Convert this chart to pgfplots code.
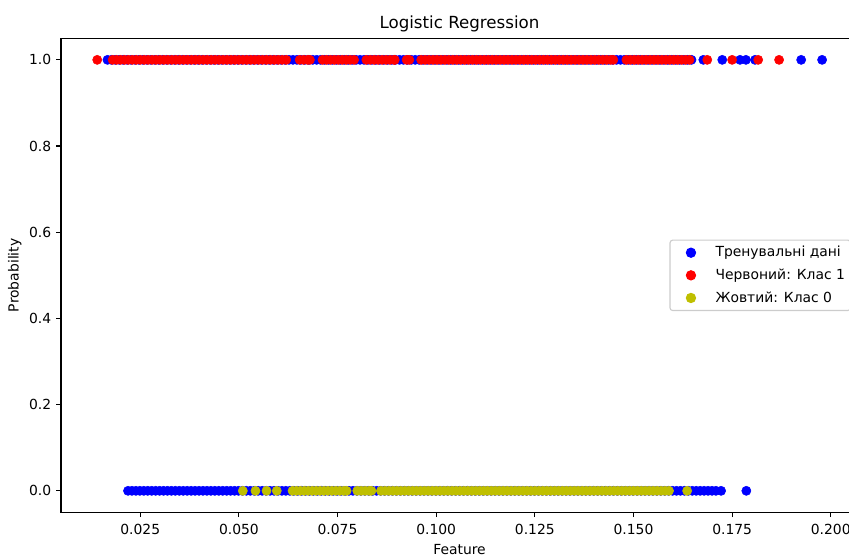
\documentclass[border=0pt]{standalone}
\usepackage{fontspec}
\setmainfont{DejaVu Sans}
\usepackage{pgfplots}
\pgfplotsset{compat=1.18}
\definecolor{mplyellow}{rgb}{0.75,0.75,0}
\begin{document}
\begin{tikzpicture}
\begin{axis}[
  name=ax,
  scale only axis,
  width=573.8pt, height=341.3pt,
  xmin=0.00492, xmax=0.2069,
  ymin=-0.05, ymax=1.05,
  /pgf/number format/assume math mode=true,
  xtick={0.025,0.050,0.075,0.100,0.125,0.150,0.175,0.200},
  xticklabels={0.025,0.050,0.075,0.100,0.125,0.150,0.175,0.200},
  ytick={0,0.2,0.4,0.6,0.8,1.0},
  yticklabels={0.0,0.2,0.4,0.6,0.8,1.0},
  tick align=outside,
  xtick pos=bottom, ytick pos=left,
  major tick length=3.5pt,
  tick style={black, line width=0.8pt},
  axis line style={black, line width=0.8pt},
  tick label style={font=\fontsize{10}{12}\selectfont},
  xticklabel style={yshift=-1.5pt},
  title={Logistic Regression},
  title style={font=\fontsize{12}{14}\selectfont, at={(axis description cs:0.5,1.0039)}, anchor=base},
  xlabel={Feature},
  xlabel style={font=\fontsize{10}{12}\selectfont, at={(axis description cs:0.5,-0.088)}, anchor=base},
  ylabel={Probability},
  ylabel style={font=\fontsize{10}{12}\selectfont, at={(axis description cs:-0.0533,0.5)}, anchor=base, rotate=0},
  legend style={at={(axis description cs:1,0.5)}, anchor=east, xshift=-5pt,
    draw=black!20, line width=0.8pt, rounded corners=2pt, fill=white,
    font=\fontsize{10}{12}\selectfont, row sep=3.2pt, inner xsep=2pt, inner ysep=2.5pt},
  legend cell align=left,
  legend image code/.code={\path (0pt,0pt) (28pt,0pt); \draw[#1] plot coordinates {(12.7pt,0pt)};},
]
\addplot[only marks, mark=*, mark size=3.3pt, color=blue] coordinates {
(0.0167,1)(0.0177,1)(0.0187,1)(0.0197,1)(0.0207,1)(0.0217,1)(0.0227,1)(0.0237,1)(0.0247,1)(0.0257,1)
(0.0267,1)(0.0277,1)(0.0287,1)(0.0297,1)(0.0307,1)(0.0317,1)(0.0327,1)(0.0337,1)(0.0347,1)(0.0357,1)
(0.0367,1)(0.0377,1)(0.0387,1)(0.0397,1)(0.0407,1)(0.0417,1)(0.0427,1)(0.0437,1)(0.0447,1)(0.0457,1)
(0.0467,1)(0.0477,1)(0.0487,1)(0.0497,1)(0.0507,1)(0.0517,1)(0.0527,1)(0.0537,1)(0.0547,1)(0.0557,1)
(0.0567,1)(0.0577,1)(0.0587,1)(0.0597,1)(0.0607,1)(0.0617,1)(0.0627,1)(0.0637,1)(0.0647,1)(0.0657,1)
(0.0667,1)(0.0677,1)(0.0687,1)(0.0697,1)(0.0707,1)(0.0717,1)(0.0727,1)(0.0737,1)(0.0747,1)(0.0757,1)
(0.0767,1)(0.0777,1)(0.0787,1)(0.0797,1)(0.0807,1)(0.0817,1)(0.0827,1)(0.0837,1)(0.0847,1)(0.0857,1)
(0.0867,1)(0.0877,1)(0.0887,1)(0.0897,1)(0.0907,1)(0.0917,1)(0.0927,1)(0.0937,1)(0.0947,1)(0.0957,1)
(0.0967,1)(0.0977,1)(0.0987,1)(0.0997,1)(0.1007,1)(0.1017,1)(0.1027,1)(0.1037,1)(0.1047,1)(0.1057,1)
(0.1067,1)(0.1077,1)(0.1087,1)(0.1097,1)(0.1107,1)(0.1117,1)(0.1127,1)(0.1137,1)(0.1147,1)(0.1157,1)
(0.1167,1)(0.1177,1)(0.1187,1)(0.1197,1)(0.1207,1)(0.1217,1)(0.1227,1)(0.1237,1)(0.1247,1)(0.1257,1)
(0.1267,1)(0.1277,1)(0.1287,1)(0.1297,1)(0.1307,1)(0.1317,1)(0.1327,1)(0.1337,1)(0.1347,1)(0.1357,1)
(0.1367,1)(0.1377,1)(0.1387,1)(0.1397,1)(0.1407,1)(0.1417,1)(0.1427,1)(0.1437,1)(0.1447,1)(0.1457,1)
(0.1467,1)(0.1477,1)(0.1487,1)(0.1497,1)(0.1507,1)(0.1517,1)(0.1527,1)(0.1537,1)(0.1547,1)(0.1557,1)
(0.1567,1)(0.1577,1)(0.1587,1)(0.1597,1)(0.1607,1)(0.1617,1)(0.1627,1)(0.1637,1)(0.1647,1)
(0.1677,1)(0.1725,1)(0.1770,1)(0.1785,1)(0.1808,1)(0.1925,1)(0.1978,1)
(0.0219,0)(0.0229,0)(0.0239,0)(0.0249,0)(0.0259,0)(0.0269,0)(0.0279,0)(0.0289,0)(0.0299,0)(0.0309,0)
(0.0319,0)(0.0329,0)(0.0339,0)(0.0349,0)(0.0359,0)(0.0369,0)(0.0379,0)(0.0389,0)(0.0399,0)(0.0409,0)
(0.0419,0)(0.0429,0)(0.0439,0)(0.0449,0)(0.0459,0)(0.0469,0)(0.0479,0)(0.0489,0)(0.0499,0)(0.0509,0)
(0.0519,0)(0.0529,0)(0.0539,0)(0.0549,0)(0.0559,0)(0.0569,0)(0.0579,0)(0.0589,0)(0.0599,0)(0.0609,0)
(0.0619,0)(0.0629,0)(0.0639,0)(0.0649,0)(0.0659,0)(0.0669,0)(0.0679,0)(0.0689,0)(0.0699,0)(0.0709,0)
(0.0719,0)(0.0729,0)(0.0739,0)(0.0749,0)(0.0759,0)(0.0769,0)(0.0779,0)(0.0789,0)(0.0799,0)(0.0809,0)
(0.0819,0)(0.0829,0)(0.0839,0)(0.0849,0)(0.0859,0)(0.0869,0)(0.0879,0)(0.0889,0)(0.0899,0)(0.0909,0)
(0.0919,0)(0.0929,0)(0.0939,0)(0.0949,0)(0.0959,0)(0.0969,0)(0.0979,0)(0.0989,0)(0.0999,0)(0.1009,0)
(0.1019,0)(0.1029,0)(0.1039,0)(0.1049,0)(0.1059,0)(0.1069,0)(0.1079,0)(0.1089,0)(0.1099,0)(0.1109,0)
(0.1119,0)(0.1129,0)(0.1139,0)(0.1149,0)(0.1159,0)(0.1169,0)(0.1179,0)(0.1189,0)(0.1199,0)(0.1209,0)
(0.1219,0)(0.1229,0)(0.1239,0)(0.1249,0)(0.1259,0)(0.1269,0)(0.1279,0)(0.1289,0)(0.1299,0)(0.1309,0)
(0.1319,0)(0.1329,0)(0.1339,0)(0.1349,0)(0.1359,0)(0.1369,0)(0.1379,0)(0.1389,0)(0.1399,0)(0.1409,0)
(0.1419,0)(0.1429,0)(0.1439,0)(0.1449,0)(0.1459,0)(0.1469,0)(0.1479,0)(0.1489,0)(0.1499,0)(0.1509,0)
(0.1519,0)(0.1529,0)(0.1539,0)(0.1549,0)(0.1559,0)(0.1569,0)(0.1579,0)(0.1589,0)(0.1599,0)(0.1609,0)
(0.1619,0)(0.1629,0)(0.1639,0)(0.1649,0)(0.1659,0)(0.1669,0)(0.1679,0)(0.1689,0)(0.1699,0)(0.1709,0)
(0.1722,0)(0.1786,0)
};
\addlegendentry{Тренувальні дані}
\addplot[only marks, mark=*, mark size=3.3pt, color=red] coordinates {
(0.0141,1)
(0.0180,1)(0.0190,1)(0.0200,1)(0.0210,1)(0.0220,1)(0.0230,1)(0.0240,1)(0.0250,1)(0.0260,1)(0.0270,1)
(0.0280,1)(0.0290,1)(0.0300,1)(0.0310,1)(0.0320,1)(0.0330,1)(0.0340,1)(0.0350,1)(0.0360,1)(0.0370,1)
(0.0380,1)(0.0390,1)(0.0400,1)(0.0410,1)(0.0420,1)(0.0430,1)(0.0440,1)(0.0450,1)(0.0460,1)(0.0470,1)
(0.0480,1)(0.0490,1)(0.0500,1)(0.0510,1)(0.0520,1)(0.0530,1)(0.0540,1)(0.0550,1)(0.0560,1)(0.0570,1)
(0.0580,1)(0.0590,1)(0.0600,1)(0.0610,1)(0.0620,1)
(0.0654,1)(0.0664,1)(0.0674,1)(0.0680,1)
(0.0712,1)(0.0722,1)(0.0732,1)(0.0742,1)(0.0752,1)(0.0762,1)(0.0772,1)(0.0782,1)(0.0792,1)
(0.0823,1)(0.0833,1)(0.0843,1)(0.0853,1)(0.0863,1)(0.0873,1)(0.0883,1)(0.0893,1)(0.0895,1)
(0.0925,1)(0.0932,1)
(0.0962,1)(0.0972,1)(0.0982,1)(0.0992,1)(0.1002,1)(0.1012,1)(0.1022,1)(0.1032,1)(0.1042,1)(0.1052,1)
(0.1062,1)(0.1072,1)(0.1082,1)(0.1092,1)(0.1102,1)(0.1112,1)(0.1122,1)(0.1132,1)(0.1142,1)(0.1152,1)
(0.1162,1)(0.1172,1)(0.1182,1)(0.1192,1)(0.1202,1)(0.1212,1)(0.1222,1)(0.1232,1)(0.1242,1)(0.1252,1)
(0.1262,1)(0.1272,1)(0.1282,1)(0.1292,1)(0.1302,1)(0.1312,1)(0.1322,1)(0.1332,1)(0.1342,1)(0.1352,1)
(0.1362,1)(0.1372,1)(0.1382,1)(0.1392,1)(0.1402,1)(0.1412,1)(0.1422,1)(0.1432,1)(0.1442,1)(0.1449,1)
(0.1482,1)(0.1492,1)(0.1502,1)(0.1512,1)(0.1522,1)(0.1532,1)(0.1542,1)(0.1552,1)(0.1562,1)(0.1572,1)
(0.1582,1)(0.1592,1)(0.1602,1)(0.1612,1)(0.1622,1)(0.1632,1)(0.1642,1)
(0.1687,1)(0.1750,1)(0.1816,1)(0.1869,1)
};
\addlegendentry{Червоний: Клас 1}
\addplot[only marks, mark=*, mark size=3.3pt, color=mplyellow] coordinates {
(0.0510,0)(0.0542,0)(0.0570,0)(0.0596,0)
(0.0636,0)(0.0646,0)(0.0656,0)(0.0666,0)(0.0676,0)(0.0686,0)(0.0696,0)(0.0706,0)(0.0716,0)(0.0726,0)
(0.0736,0)(0.0746,0)(0.0756,0)(0.0766,0)(0.0773,0)
(0.0800,0)(0.0810,0)(0.0820,0)(0.0830,0)(0.0836,0)
(0.0860,0)(0.0870,0)(0.0880,0)(0.0890,0)(0.0900,0)(0.0910,0)(0.0920,0)(0.0930,0)(0.0940,0)(0.0950,0)
(0.0960,0)(0.0970,0)(0.0980,0)(0.0990,0)(0.1000,0)(0.1010,0)(0.1020,0)(0.1030,0)(0.1040,0)(0.1050,0)
(0.1060,0)(0.1070,0)(0.1080,0)(0.1090,0)(0.1100,0)(0.1110,0)(0.1120,0)(0.1130,0)(0.1140,0)(0.1150,0)
(0.1160,0)(0.1170,0)(0.1180,0)(0.1190,0)(0.1200,0)(0.1210,0)(0.1220,0)(0.1230,0)(0.1240,0)(0.1250,0)
(0.1260,0)(0.1270,0)(0.1280,0)(0.1290,0)(0.1300,0)(0.1310,0)(0.1320,0)(0.1330,0)(0.1340,0)(0.1350,0)
(0.1360,0)(0.1370,0)(0.1380,0)(0.1390,0)(0.1400,0)(0.1410,0)(0.1420,0)(0.1430,0)(0.1440,0)(0.1450,0)
(0.1460,0)(0.1470,0)(0.1480,0)(0.1490,0)(0.1500,0)(0.1510,0)(0.1520,0)(0.1530,0)(0.1540,0)(0.1550,0)
(0.1560,0)(0.1570,0)(0.1580,0)(0.1590,0)
(0.1636,0)
};
\addlegendentry{Жовтий: Клас 0}
\end{axis}
\pgfresetboundingbox
\useasboundingbox ([xshift=-43.92pt,yshift=-32.9pt]ax.south west) rectangle ([xshift=-6.48pt,yshift=27.58pt]ax.north east);
\end{tikzpicture}
\end{document}
